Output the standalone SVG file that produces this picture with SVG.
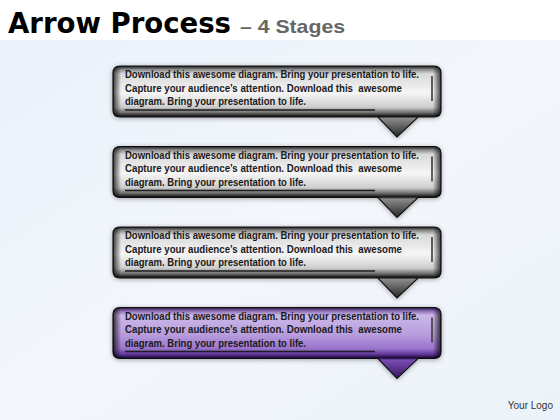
<svg xmlns="http://www.w3.org/2000/svg" width="560" height="420" viewBox="0 0 560 420">
  <style>
    .title { font-family: "DejaVu Sans", "Liberation Sans", sans-serif; font-weight: bold; font-size: 28px; fill: #000; }
    .sub { font-family: "Liberation Sans", "Open Sans", sans-serif; font-weight: bold; font-size: 19px; fill: #666; }
    .body { font-family: "Liberation Sans", Arial, sans-serif; font-weight: bold; font-size: 10px; fill: #1a1a1a; }
    .logo { font-family: "Liberation Sans", Arial, sans-serif; font-size: 10px; fill: #333; }
    .edge { stroke: #111; stroke-width: 1.2; }
    .uline { stroke: #1e1e1e; stroke-width: 1.6; fill: none; }
    .vline { stroke: #3a3a3a; stroke-width: 1.6; fill: none; }
  </style>
  <defs>
    <linearGradient id="bg" x1="0" y1="0" x2="1" y2="1">
      <stop offset="0" stop-color="#e9f1fa"/>
      <stop offset="0.5" stop-color="#f3f7fc"/>
      <stop offset="1" stop-color="#ecf2f9"/>
    </linearGradient>
    <linearGradient id="gS" gradientUnits="userSpaceOnUse" x1="0" y1="0" x2="0" y2="71">
      <stop offset="0" stop-color="#1a1a1a"/>
      <stop offset="0.05" stop-color="#8c8c8c"/>
      <stop offset="0.11" stop-color="#d8d8d8"/>
      <stop offset="0.38" stop-color="#f6f6f6"/>
      <stop offset="0.58" stop-color="#cdcdcd"/>
      <stop offset="0.66" stop-color="#6a6a6a"/>
      <stop offset="0.71" stop-color="#111"/>
      <stop offset="0.74" stop-color="#8a8a8a"/>
      <stop offset="1" stop-color="#262626"/>
    </linearGradient>
    <linearGradient id="gP" gradientUnits="userSpaceOnUse" x1="0" y1="0" x2="0" y2="71">
      <stop offset="0" stop-color="#24103a"/>
      <stop offset="0.05" stop-color="#8c70b4"/>
      <stop offset="0.11" stop-color="#cbb8e8"/>
      <stop offset="0.38" stop-color="#b89ddc"/>
      <stop offset="0.58" stop-color="#9a74cc"/>
      <stop offset="0.66" stop-color="#5e3598"/>
      <stop offset="0.71" stop-color="#1c0a34"/>
      <stop offset="0.74" stop-color="#7a4cb4"/>
      <stop offset="1" stop-color="#35165e"/>
    </linearGradient>
    <linearGradient id="side" x1="0" y1="0" x2="1" y2="0">
      <stop offset="0" stop-color="#000" stop-opacity="0.75"/>
      <stop offset="0.025" stop-color="#000" stop-opacity="0"/>
      <stop offset="0.975" stop-color="#000" stop-opacity="0"/>
      <stop offset="1" stop-color="#000" stop-opacity="0.75"/>
    </linearGradient>
    <filter id="glow" x="-10%" y="-20%" width="120%" height="150%">
      <feGaussianBlur in="SourceAlpha" stdDeviation="2.5"/>
      <feComponentTransfer><feFuncA type="linear" slope="0.35"/></feComponentTransfer>
      <feOffset dy="1"/>
      <feMerge><feMergeNode/><feMergeNode in="SourceGraphic"/></feMerge>
    </filter>
    <path id="callout" d="M120,0 H434 Q441,0 441,7 V44 Q441,51 434,51 H418 L397,71 L378,51 H120 Q113,51 113,44 V7 Q113,0 120,0 Z"/>
  </defs>

  <rect x="0" y="0" width="560" height="420" fill="#ffffff"/>
  <rect x="0" y="40" width="560" height="380" fill="url(#bg)"/>

  <g id="title">
    <text class="title" x="8" y="33" textLength="223" lengthAdjust="spacingAndGlyphs">Arrow Process</text>
    <text class="sub" x="240" y="33" textLength="105" lengthAdjust="spacingAndGlyphs">– 4 Stages</text>
  </g>

  <g id="node1" transform="translate(0,66)">
    <use href="#callout" fill="url(#gS)" class="edge" filter="url(#glow)"/>
    <rect x="113" y="0" width="328" height="51" rx="7" fill="url(#side)"/>
    <line class="uline" x1="125" y1="44" x2="375" y2="44"/>
    <line class="vline" x1="432" y1="10" x2="432" y2="35"/>
    <text class="body" x="125" y="12" textLength="294" lengthAdjust="spacingAndGlyphs">Download this awesome diagram. Bring your presentation to life.</text>
    <text class="body" x="125" y="25.5" textLength="277" lengthAdjust="spacingAndGlyphs" xml:space="preserve">Capture your audience’s attention. Download this  awesome</text>
    <text class="body" x="125" y="39" textLength="181" lengthAdjust="spacingAndGlyphs">diagram. Bring your presentation to life.</text>
  </g>

  <g id="node2" transform="translate(0,146.5)">
    <use href="#callout" fill="url(#gS)" class="edge" filter="url(#glow)"/>
    <rect x="113" y="0" width="328" height="51" rx="7" fill="url(#side)"/>
    <line class="uline" x1="125" y1="44" x2="375" y2="44"/>
    <line class="vline" x1="432" y1="10" x2="432" y2="35"/>
    <text class="body" x="125" y="12" textLength="294" lengthAdjust="spacingAndGlyphs">Download this awesome diagram. Bring your presentation to life.</text>
    <text class="body" x="125" y="25.5" textLength="277" lengthAdjust="spacingAndGlyphs" xml:space="preserve">Capture your audience’s attention. Download this  awesome</text>
    <text class="body" x="125" y="39" textLength="181" lengthAdjust="spacingAndGlyphs">diagram. Bring your presentation to life.</text>
  </g>

  <g id="node3" transform="translate(0,227)">
    <use href="#callout" fill="url(#gS)" class="edge" filter="url(#glow)"/>
    <rect x="113" y="0" width="328" height="51" rx="7" fill="url(#side)"/>
    <line class="uline" x1="125" y1="44" x2="375" y2="44"/>
    <line class="vline" x1="432" y1="10" x2="432" y2="35"/>
    <text class="body" x="125" y="12" textLength="294" lengthAdjust="spacingAndGlyphs">Download this awesome diagram. Bring your presentation to life.</text>
    <text class="body" x="125" y="25.5" textLength="277" lengthAdjust="spacingAndGlyphs" xml:space="preserve">Capture your audience’s attention. Download this  awesome</text>
    <text class="body" x="125" y="39" textLength="181" lengthAdjust="spacingAndGlyphs">diagram. Bring your presentation to life.</text>
  </g>

  <g id="node4" transform="translate(0,307.5)">
    <use href="#callout" fill="url(#gP)" class="edge" filter="url(#glow)"/>
    <rect x="113" y="0" width="328" height="51" rx="7" fill="url(#side)"/>
    <line class="uline" x1="125" y1="44" x2="375" y2="44" stroke="#3a1a66"/>
    <line class="vline" x1="432" y1="10" x2="432" y2="35" stroke="#4a2a7a"/>
    <text class="body" x="125" y="12" textLength="294" lengthAdjust="spacingAndGlyphs">Download this awesome diagram. Bring your presentation to life.</text>
    <text class="body" x="125" y="25.5" textLength="277" lengthAdjust="spacingAndGlyphs" xml:space="preserve">Capture your audience’s attention. Download this  awesome</text>
    <text class="body" x="125" y="39" textLength="181" lengthAdjust="spacingAndGlyphs">diagram. Bring your presentation to life.</text>
  </g>

  <g id="connectors"/>

  <text class="logo" x="553" y="409" text-anchor="end">Your Logo</text>
</svg>
